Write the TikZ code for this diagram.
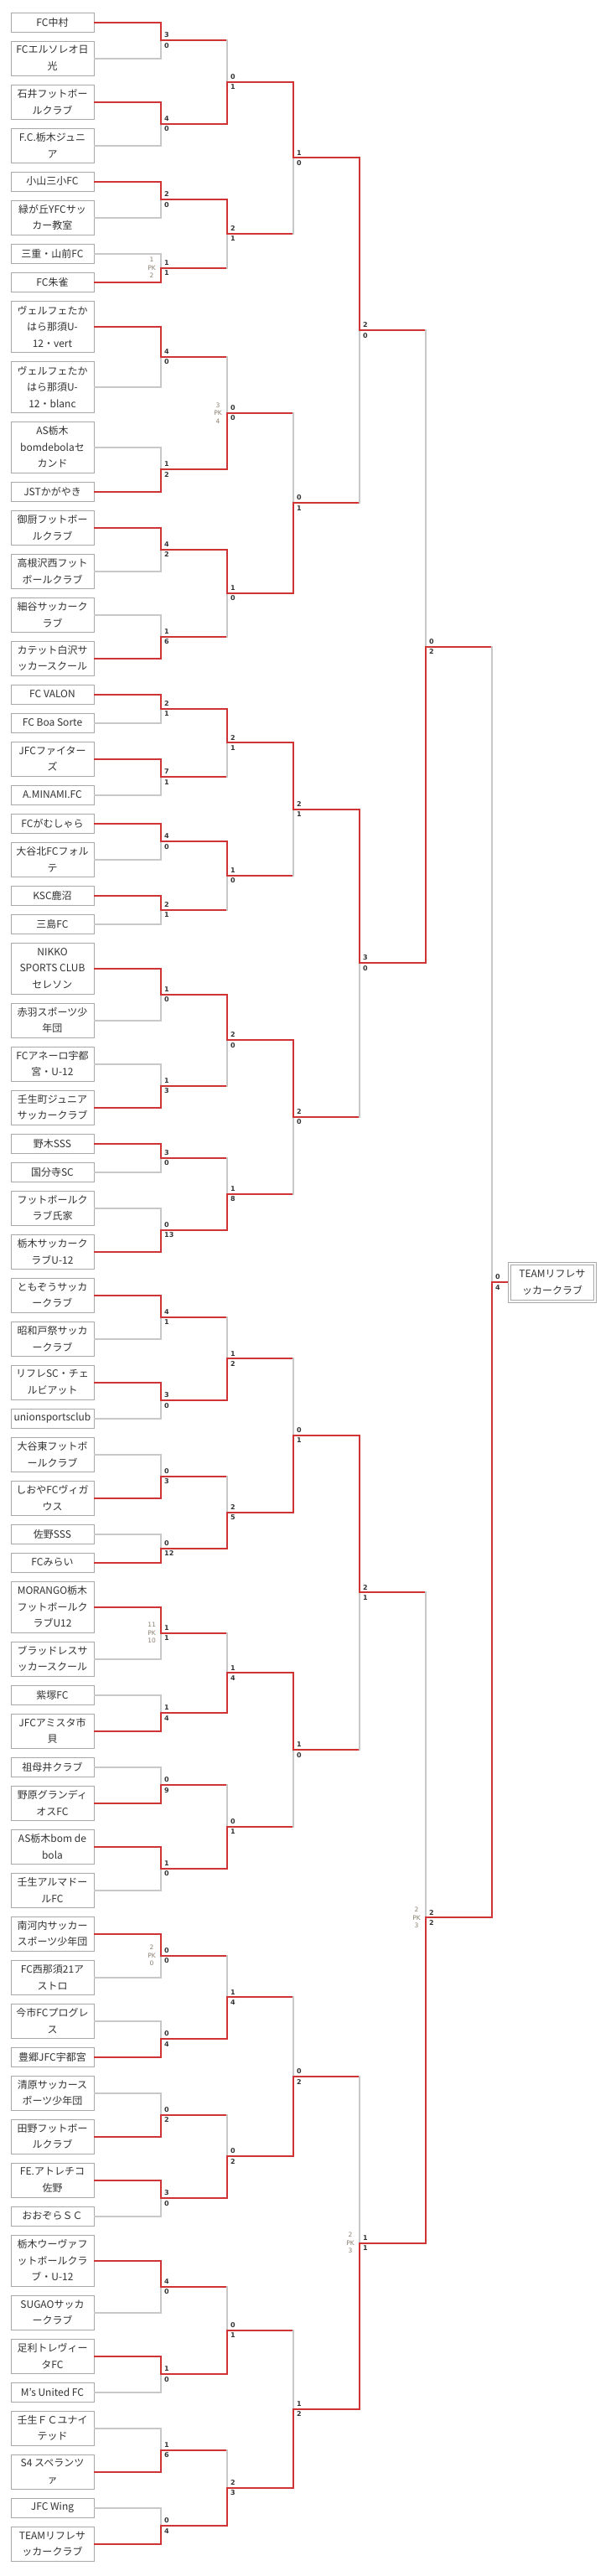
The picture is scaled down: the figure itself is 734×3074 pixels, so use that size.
\documentclass[tikz,border=0pt]{standalone}
\usepackage{fontspec}
\setmainfont{Noto Sans CJK JP}
\newfontfamily\scfont{DejaVu Sans}
\usetikzlibrary{calc}
\definecolor{wred}{HTML}{D03333}
\definecolor{lgr}{HTML}{C8C8C8}
\definecolor{bxg}{HTML}{A8A8A8}
\definecolor{txt}{HTML}{333333}
\definecolor{pkc}{HTML}{8A8070}
\tikzset{
 teambox/.style={draw=bxg,line width=1pt,minimum width=99pt,inner sep=0pt,align=center,text=txt,font=\fontsize{12}{19.5}\selectfont},
 lred/.style={draw=wred,line width=2pt,line cap=rect},
 lgray/.style={draw=lgr,line width=2pt,line cap=rect},
 score/.style={inner sep=1pt,text=txt,font=\scfont\bfseries\fontsize{8}{9}\selectfont},
 pklab/.style={inner sep=0pt,align=center,text=pkc,font=\scfont\fontsize{7.5}{9.5}\selectfont},
 champ/.style={draw=bxg,line width=1pt,double=white,double distance=2pt,minimum width=102pt,minimum height=45pt,inner sep=0pt,align=center,text=txt,font=\fontsize{12}{19.5}\selectfont}
}
\newcommand\team[3]{%
 \pgfmathsetmacro\hh{ifthenelse(#2==1,23,ifthenelse(#2==2,41,61))}%
 \pgfmathsetmacro\cy{\curY+\hh/2}%
 \node[teambox,minimum height=\hh pt] (#1) at (62.5,-\cy) {#3};%
 \coordinate (#1e) at (#1.east);%
 \pgfmathsetmacro\ny{\curY+\hh+11}%
 \xdef\curY{\ny}}
\newcommand\match[9]{%
 \coordinate (V) at (#4,0);\coordinate (N) at (#5,0);%
 \coordinate (tmpm) at ($(#2)!.5!(#3)$);%
 \coordinate (#1) at (tmpm -| V);%
 \ifnum#8=1 \def\Wi{#2}\def\Lo{#3}\else\def\Wi{#3}\def\Lo{#2}\fi
 \draw[lgray] (\Lo -| V) -- (#1);%
 \draw[lred] (\Wi -| V) -- (#1) -- (#1 -| N);%
 \node[score,anchor=south west] at ($(#1)+(3,2)$) {#6};%
 \node[score,anchor=north west] at ($(#1)+(3,-2)$) {#7};%
 \if\relax\detokenize{#9}\relax\else\node[pklab,anchor=east] at ($(#1)+(-6,0)$) {#9};\fi}
\newcommand\rone[7]{%
 \coordinate (V) at (192,0);%
 \ifnum#6=1 \draw[lgray] (t#3e) -- (t#3e -| V);\draw[lred] (t#2e) -- (t#2e -| V);%
 \else \draw[lgray] (t#2e) -- (t#2e -| V);\draw[lred] (t#3e) -- (t#3e -| V);\fi
 \match{#1}{t#2e}{t#3e}{192}{271}{#4}{#5}{#6}{#7}}
\newcommand\pk[2]{#1\\PK\\#2}
\begin{document}
\begin{tikzpicture}[x=1pt,y=1pt]
\fill[white] (0,0) rectangle (734,-3074);
\useasboundingbox (0,0) rectangle (734,-3074);
\xdef\curY{15}
\team{t1}{1}{FC中村}
\team{t2}{2}{FCエルソレオ日\\光}
\team{t3}{2}{石井フットボー\\ルクラブ}
\team{t4}{2}{F.C.栃木ジュニ\\ア}
\team{t5}{1}{小山三小FC}
\team{t6}{2}{緑が丘YFCサッ\\カー教室}
\team{t7}{1}{三重・山前FC}
\team{t8}{1}{FC朱雀}
\team{t9}{3}{ヴェルフェたか\\はら那須U-\\12・vert}
\team{t10}{3}{ヴェルフェたか\\はら那須U-\\12・blanc}
\team{t11}{3}{AS栃木\\bomdebolaセ\\カンド}
\team{t12}{1}{JSTかがやき}
\team{t13}{2}{御厨フットボー\\ルクラブ}
\team{t14}{2}{高根沢西フット\\ボールクラブ}
\team{t15}{2}{細谷サッカーク\\ラブ}
\team{t16}{2}{カテット白沢サ\\ッカースクール}
\team{t17}{1}{FC VALON}
\team{t18}{1}{FC Boa Sorte}
\team{t19}{2}{JFCファイター\\ズ}
\team{t20}{1}{A.MINAMI.FC}
\team{t21}{1}{FCがむしゃら}
\team{t22}{2}{大谷北FCフォル\\テ}
\team{t23}{1}{KSC鹿沼}
\team{t24}{1}{三島FC}
\team{t25}{3}{NIKKO\\SPORTS CLUB\\セレソン}
\team{t26}{2}{赤羽スポーツ少\\年団}
\team{t27}{2}{FCアネーロ宇都\\宮・U-12}
\team{t28}{2}{壬生町ジュニア\\サッカークラブ}
\team{t29}{1}{野木SSS}
\team{t30}{1}{国分寺SC}
\team{t31}{2}{フットボールク\\ラブ氏家}
\team{t32}{2}{栃木サッカーク\\ラブU-12}
\team{t33}{2}{ともぞうサッカ\\ークラブ}
\team{t34}{2}{昭和戸祭サッカ\\ークラブ}
\team{t35}{2}{リフレSC・チェ\\ルビアット}
\team{t36}{1}{unionsportsclub}
\team{t37}{2}{大谷東フットボ\\ールクラブ}
\team{t38}{2}{しおやFCヴィガ\\ウス}
\team{t39}{1}{佐野SSS}
\team{t40}{1}{FCみらい}
\team{t41}{3}{MORANGO栃木\\フットボールク\\ラブU12}
\team{t42}{2}{ブラッドレスサ\\ッカースクール}
\team{t43}{1}{紫塚FC}
\team{t44}{2}{JFCアミスタ市\\貝}
\team{t45}{1}{祖母井クラブ}
\team{t46}{2}{野原グランディ\\オスFC}
\team{t47}{2}{AS栃木bom de\\bola}
\team{t48}{2}{壬生アルマドー\\ルFC}
\team{t49}{2}{南河内サッカー\\スポーツ少年団}
\team{t50}{2}{FC西那須21ア\\ストロ}
\team{t51}{2}{今市FCプログレ\\ス}
\team{t52}{1}{豊郷JFC宇都宮}
\team{t53}{2}{清原サッカース\\ポーツ少年団}
\team{t54}{2}{田野フットボー\\ルクラブ}
\team{t55}{2}{FE.アトレチコ\\佐野}
\team{t56}{1}{おおぞらＳＣ}
\team{t57}{3}{栃木ウーヴァフ\\ットボールクラ\\ブ・U-12}
\team{t58}{2}{SUGAOサッカ\\ークラブ}
\team{t59}{2}{足利トレヴィー\\タFC}
\team{t60}{1}{M's United FC}
\team{t61}{2}{壬生ＦＣユナイ\\テッド}
\team{t62}{2}{S4 スペランツ\\ァ}
\team{t63}{1}{JFC Wing}
\team{t64}{2}{TEAMリフレサ\\ッカークラブ}
% round 1
\rone{a1}{1}{2}{3}{0}{1}{}
\rone{a2}{3}{4}{4}{0}{1}{}
\rone{a3}{5}{6}{2}{0}{1}{}
\rone{a4}{7}{8}{1}{1}{2}{\pk{1}{2}}
\rone{a5}{9}{10}{4}{0}{1}{}
\rone{a6}{11}{12}{1}{2}{2}{}
\rone{a7}{13}{14}{4}{2}{1}{}
\rone{a8}{15}{16}{1}{6}{2}{}
\rone{a9}{17}{18}{2}{1}{1}{}
\rone{a10}{19}{20}{7}{1}{1}{}
\rone{a11}{21}{22}{4}{0}{1}{}
\rone{a12}{23}{24}{2}{1}{1}{}
\rone{a13}{25}{26}{1}{0}{1}{}
\rone{a14}{27}{28}{1}{3}{2}{}
\rone{a15}{29}{30}{3}{0}{1}{}
\rone{a16}{31}{32}{0}{13}{2}{}
\rone{a17}{33}{34}{4}{1}{1}{}
\rone{a18}{35}{36}{3}{0}{1}{}
\rone{a19}{37}{38}{0}{3}{2}{}
\rone{a20}{39}{40}{0}{12}{2}{}
\rone{a21}{41}{42}{1}{1}{1}{\pk{11}{10}}
\rone{a22}{43}{44}{1}{4}{2}{}
\rone{a23}{45}{46}{0}{9}{2}{}
\rone{a24}{47}{48}{1}{0}{1}{}
\rone{a25}{49}{50}{0}{0}{1}{\pk{2}{0}}
\rone{a26}{51}{52}{0}{4}{2}{}
\rone{a27}{53}{54}{0}{2}{2}{}
\rone{a28}{55}{56}{3}{0}{1}{}
\rone{a29}{57}{58}{4}{0}{1}{}
\rone{a30}{59}{60}{1}{0}{1}{}
\rone{a31}{61}{62}{1}{6}{2}{}
\rone{a32}{63}{64}{0}{4}{2}{}
% round 2
\match{b1}{a1}{a2}{271}{350}{0}{1}{2}{}
\match{b2}{a3}{a4}{271}{350}{2}{1}{1}{}
\match{b3}{a5}{a6}{271}{350}{0}{0}{2}{\pk{3}{4}}
\match{b4}{a7}{a8}{271}{350}{1}{0}{1}{}
\match{b5}{a9}{a10}{271}{350}{2}{1}{1}{}
\match{b6}{a11}{a12}{271}{350}{1}{0}{1}{}
\match{b7}{a13}{a14}{271}{350}{2}{0}{1}{}
\match{b8}{a15}{a16}{271}{350}{1}{8}{2}{}
\match{b9}{a17}{a18}{271}{350}{1}{2}{2}{}
\match{b10}{a19}{a20}{271}{350}{2}{5}{2}{}
\match{b11}{a21}{a22}{271}{350}{1}{4}{2}{}
\match{b12}{a23}{a24}{271}{350}{0}{1}{2}{}
\match{b13}{a25}{a26}{271}{350}{1}{4}{2}{}
\match{b14}{a27}{a28}{271}{350}{0}{2}{2}{}
\match{b15}{a29}{a30}{271}{350}{0}{1}{2}{}
\match{b16}{a31}{a32}{271}{350}{2}{3}{2}{}
% round 3
\match{c1}{b1}{b2}{350}{429}{1}{0}{1}{}
\match{c2}{b3}{b4}{350}{429}{0}{1}{2}{}
\match{c3}{b5}{b6}{350}{429}{2}{1}{1}{}
\match{c4}{b7}{b8}{350}{429}{2}{0}{1}{}
\match{c5}{b9}{b10}{350}{429}{0}{1}{2}{}
\match{c6}{b11}{b12}{350}{429}{1}{0}{1}{}
\match{c7}{b13}{b14}{350}{429}{0}{2}{2}{}
\match{c8}{b15}{b16}{350}{429}{1}{2}{2}{}
% round 4
\match{d1}{c1}{c2}{429}{508}{2}{0}{1}{}
\match{d2}{c3}{c4}{429}{508}{3}{0}{1}{}
\match{d3}{c5}{c6}{429}{508}{2}{1}{1}{}
\match{d4}{c7}{c8}{429}{508}{1}{1}{2}{\pk{2}{3}}
% round 5
\match{e1}{d1}{d2}{508}{587}{0}{2}{2}{}
\match{e2}{d3}{d4}{508}{587}{2}{2}{2}{\pk{2}{3}}
% final
\match{fin}{e1}{e2}{587}{607}{0}{4}{2}{}
\node[champ,anchor=west] (champion) at ($(fin)+(20.5,0)$) {TEAMリフレサ\\ッカークラブ};
\end{tikzpicture}
\end{document}
